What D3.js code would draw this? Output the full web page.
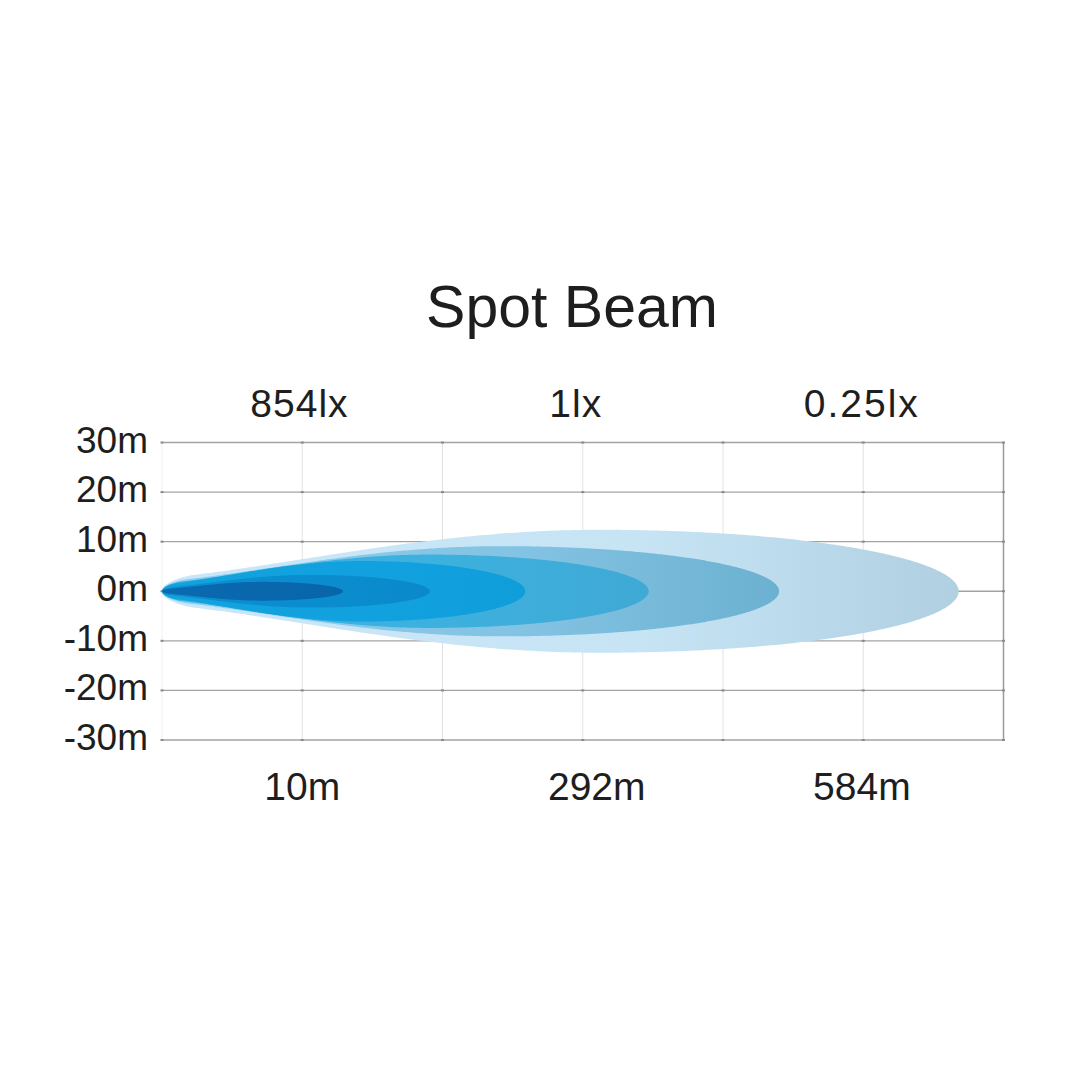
<!DOCTYPE html>
<html>
<head>
<meta charset="utf-8">
<script src="https://cdn.jsdelivr.net/npm/d3@7"></script>
<style>
  body { margin: 0; background: #fff; }
  text { font-family: "Liberation Sans", Arial, sans-serif; fill: #1e1e1e; }
</style>
</head>
<body>
<script>
const title = "Spot Beam";

// y ticks, metres either side of the beam axis
const yTicks = [30, 20, 10, 0, -10, -20, -30];

// distance labels under the grid and lux labels above it (position in grid columns)
const distLabels = ["10m", "292m", "584m"];
const distPos = [1.0, 3.1, 4.99];
const luxLabels = ["854lx", "1lx", "0.25lx"];
const luxPos = [0.98, 2.95, 4.99];

// beam isolines, outer to inner: reach in grid columns, half width in metres
const beamReach = [5.68, 4.40, 3.47, 2.59, 1.91, 1.29];
const beamWidth = [12.4, 9.1, 7.4, 6.1, 3.3, 1.9];
const beamColors = [
  ["#c9e7f8", "#c6e4f4", "#b0d0e2"],
  ["#92cfed", "#82c2e2", "#6cb1d1"],
  ["#38b3e4", "#3db0de", "#40a9d5"],
  ["#12a3df", "#11a1de", "#109edb"],
  ["#0a8fd1", "#0a8dcf", "#0a89ca"],
  ["#0a69af", "#0967ad", "#0865aa"]
];

const w = 1080;
const h = 1080;

const svg = d3.select("body")
  .append("svg")
  .attr("width", w)
  .attr("height", h);

const x = d3.scaleLinear().domain([0, 6]).range([162, 1003.5]);
const y = d3.scaleLinear().domain([-30, 30]).range([740, 442.5]);

// title
svg.append("text")
  .attr("x", 572)
  .attr("y", 327)
  .attr("text-anchor", "middle")
  .style("font-size", "59px")
  .text(title);

// vertical grid
svg.append("g")
  .selectAll("line")
  .data(d3.range(0, 7))
  .join("line")
  .attr("x1", d => x(d))
  .attr("x2", d => x(d))
  .attr("y1", y(30))
  .attr("y2", y(-30))
  .attr("stroke", d => d === 6 ? "#9a9a9a" : (d === 0 ? "#f0f0f0" : "#e2e2e2"))
  .attr("stroke-width", d => d === 6 ? 1.5 : 1);

// horizontal grid
svg.append("g")
  .selectAll("line")
  .data(yTicks)
  .join("line")
  .attr("x1", x(0))
  .attr("x2", x(6))
  .attr("y1", d => y(d))
  .attr("y2", d => y(d))
  .attr("stroke", "#a3a3a3")
  .attr("stroke-width", 1.4);

// little tick dots where the grid lines cross
const cross = [];
yTicks.forEach(t => d3.range(0, 7).forEach(c => cross.push([c, t])));
svg.append("g")
  .selectAll("rect")
  .data(cross)
  .join("rect")
  .attr("x", d => x(d[0]) - 1.5)
  .attr("y", d => y(d[1]) - 1)
  .attr("width", 3)
  .attr("height", 2)
  .attr("fill", "#8a8a8a");

// y labels
svg.append("g")
  .selectAll("text")
  .data(yTicks)
  .join("text")
  .attr("x", 148)
  .attr("y", d => y(d) + 10)
  .attr("text-anchor", "end")
  .style("font-size", "37px")
  .text(d => d + "m");

// beams
const defs = svg.append("defs");
beamColors.forEach((c, i) => {
  const g = defs.append("linearGradient")
    .attr("id", "beam" + i)
    .attr("x1", "0%").attr("x2", "100%")
    .attr("y1", "0%").attr("y2", "0%");
  g.append("stop").attr("offset", "0%").attr("stop-color", c[0]);
  g.append("stop").attr("offset", "60%").attr("stop-color", c[1]);
  g.append("stop").attr("offset", "100%").attr("stop-color", c[2]);
});

// teardrop outline: short rounded nose, slow swell, elliptical far end
function beamProfile(reach, width) {
  const peak = reach * 0.55;
  const s = 0.08, b = 0.22;
  const pts = [];
  const n = 200;
  for (let k = 0; k <= n; k++) {
    const t = k / n;
    const u = 1 - Math.cos(t * Math.PI / 2);
    const m = Math.min(u / s, 1);
    const nose = Math.sqrt(1 - (1 - m) * (1 - m));
    const body = Math.pow(Math.sin(Math.PI / 2 * u), 1.3);
    pts.push({ d: peak * u, hw: width * (b * nose + (1 - b) * body) });
  }
  for (let k = 1; k <= n; k++) {
    const a = k / n * Math.PI / 2;
    pts.push({ d: peak + (reach - peak) * Math.sin(a), hw: width * Math.cos(a) });
  }
  return pts;
}

const area = d3.area()
  .x(p => x(p.d))
  .y0(p => y(-p.hw))
  .y1(p => y(p.hw))
  .curve(d3.curveLinear);

svg.append("g")
  .selectAll("path")
  .data(beamReach.map((r, i) => ({ r: r, wd: beamWidth[i], i: i })))
  .join("path")
  .attr("d", b => area(beamProfile(b.r, b.wd)))
  .attr("fill", b => `url(#beam${b.i})`);

// lux labels
svg.append("g")
  .selectAll("text")
  .data(luxLabels)
  .join("text")
  .attr("x", (d, i) => x(luxPos[i]))
  .attr("y", 417)
  .attr("text-anchor", "middle")
  .style("font-size", "39px")
  .style("letter-spacing", (d, i) => i === 2 ? "2px" : "1px")
  .text(d => d);

// distance labels
svg.append("g")
  .selectAll("text")
  .data(distLabels)
  .join("text")
  .attr("x", (d, i) => x(distPos[i]))
  .attr("y", 800)
  .attr("text-anchor", "middle")
  .style("font-size", "39px")
  .text(d => d);
</script>
</body>
</html>
